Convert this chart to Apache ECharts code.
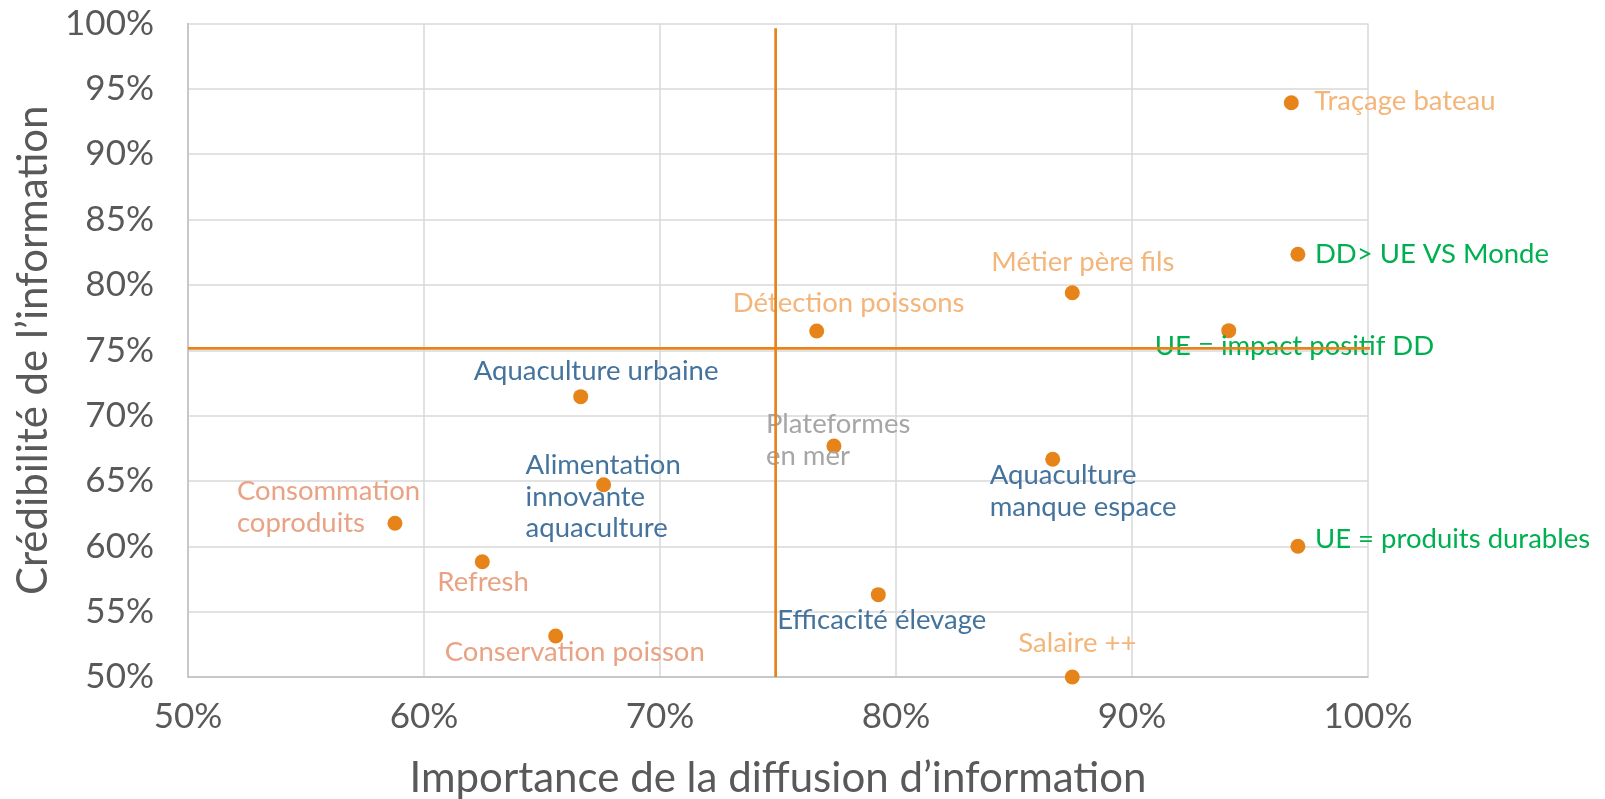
<!DOCTYPE html>
<html><head><meta charset="utf-8">
<script src="https://cdn.jsdelivr.net/npm/echarts@6/dist/echarts.min.js"></script>
<style>html,body{margin:0;padding:0;background:#fff}#c{width:1605px;height:799px}</style>
</head><body><div id="c"></div>
<script>
// ---- data ----
const names = [
  'Traçage bateau', 'DD> UE VS Monde', 'UE = impact positif DD', 'UE = produits durables',
  'Métier père fils', 'Détection poissons', 'Aquaculture urbaine', 'Plateformes\nen mer',
  'Aquaculture\nmanque espace', 'Alimentation\ninnovante\naquaculture', 'Consommation\ncoproduits',
  'Refresh', 'Conservation poisson', 'Efficacité élevage', 'Salaire ++'
];
const importance = [96.75, 97.03, 94.1, 97.03, 87.47, 76.64, 66.64, 77.37, 86.64, 67.61, 58.77, 62.47, 65.58, 79.25, 87.47];
const credibilite = [93.94, 82.34, 76.5, 60.0, 79.4, 76.47, 71.45, 67.67, 66.66, 64.71, 61.76, 58.82, 53.14, 56.3, 50.0];
const labelGroup = ['peach', 'green', 'green', 'green', 'peach', 'peach', 'blue', 'gray', 'blue', 'blue', 'salmon', 'salmon', 'salmon', 'blue', 'peach'];
const axisMin = 50, axisMax = 100;
const xInterval = 10, yInterval = 5;
const refLineX = 74.9;   // vertical line
const refLineY = 75.15;  // horizontal line
const refVertical = [[refLineX, 50], [refLineX, 99.63]];
const refHorizontal = [[50, refLineY], [100.3, refLineY]];

// ---- styles ----
const groupColors = { peach: '#F4B57A', green: '#00B050', blue: '#44739D', gray: '#A6A6A6', salmon: '#E9A384' };
// label offsets (left edge dx, block-center dy) relative to the marker, in px
const labelOffsets = [
  [23, -2], [17, 0], [-74, 15], [17, -7], [-81, -31], [-84, -28], [-107, -26], [-68, -6],
  [-63, 32], [-78, 12], [-158, -16], [-45, 20], [-111, 16], [-101, 25], [-54, -34]
];
const FONT = 'Lato, "Noto Sans", sans-serif';
const orange = '#E6841A';

const points = names.map((n, i) => ({
  name: n,
  value: [importance[i], credibilite[i]],
  label: {
    show: true,
    formatter: n,
    position: 'inside',
    align: 'left',
    verticalAlign: 'middle',
    offset: labelOffsets[i],
    color: groupColors[labelGroup[i]],
    fontSize: 27.5,
    lineHeight: 31.5,
    fontFamily: FONT
  }
}));

const chart = echarts.init(document.getElementById('c'), null, { renderer: 'canvas' });
chart.setOption({
  animation: false,
  backgroundColor: '#ffffff',
  grid: { left: 188, right: 237, top: 23.5, bottom: 122, containLabel: false, outerBoundsMode: 'none' },
  xAxis: {
    type: 'value', min: axisMin, max: axisMax, interval: xInterval,
    name: 'Importance de la diffusion d’information',
    nameLocation: 'middle', nameGap: 80,
    nameTextStyle: { fontSize: 42, color: '#595959', fontFamily: FONT },
    axisLine: { show: true, lineStyle: { color: '#BFBFBF', width: 1.5 } },
    axisTick: { show: false },
    axisLabel: { formatter: '{value}%', fontSize: 35, color: '#595959', fontFamily: FONT, margin: 22 },
    splitLine: { show: true, lineStyle: { color: '#D9D9D9', width: 1.5 } }
  },
  yAxis: {
    type: 'value', min: axisMin, max: axisMax, interval: yInterval,
    name: 'Crédibilité de l’information',
    nameLocation: 'middle', nameGap: 129, nameRotate: 90,
    nameTextStyle: { fontSize: 42, color: '#595959', fontFamily: FONT },
    axisLine: { show: true, lineStyle: { color: '#BFBFBF', width: 1.5 } },
    axisTick: { show: false },
    axisLabel: { formatter: '{value}%', fontSize: 35, color: '#595959', fontFamily: FONT, margin: 34 },
    splitLine: { show: true, lineStyle: { color: '#D9D9D9', width: 1.5 } }
  },
  series: [
    {
      type: 'scatter', z: 2, symbol: 'circle', symbolSize: 15,
      itemStyle: { color: orange, opacity: 1 },
      data: points
    },
    {
      type: 'line', z: 3, data: refVertical, symbol: 'none', clip: false,
      lineStyle: { color: orange, width: 2.7 }, silent: true
    },
    {
      type: 'line', z: 3, data: refHorizontal, symbol: 'none', clip: false,
      lineStyle: { color: orange, width: 2.7 }, silent: true
    }
  ]
});
</script>
</body></html>
